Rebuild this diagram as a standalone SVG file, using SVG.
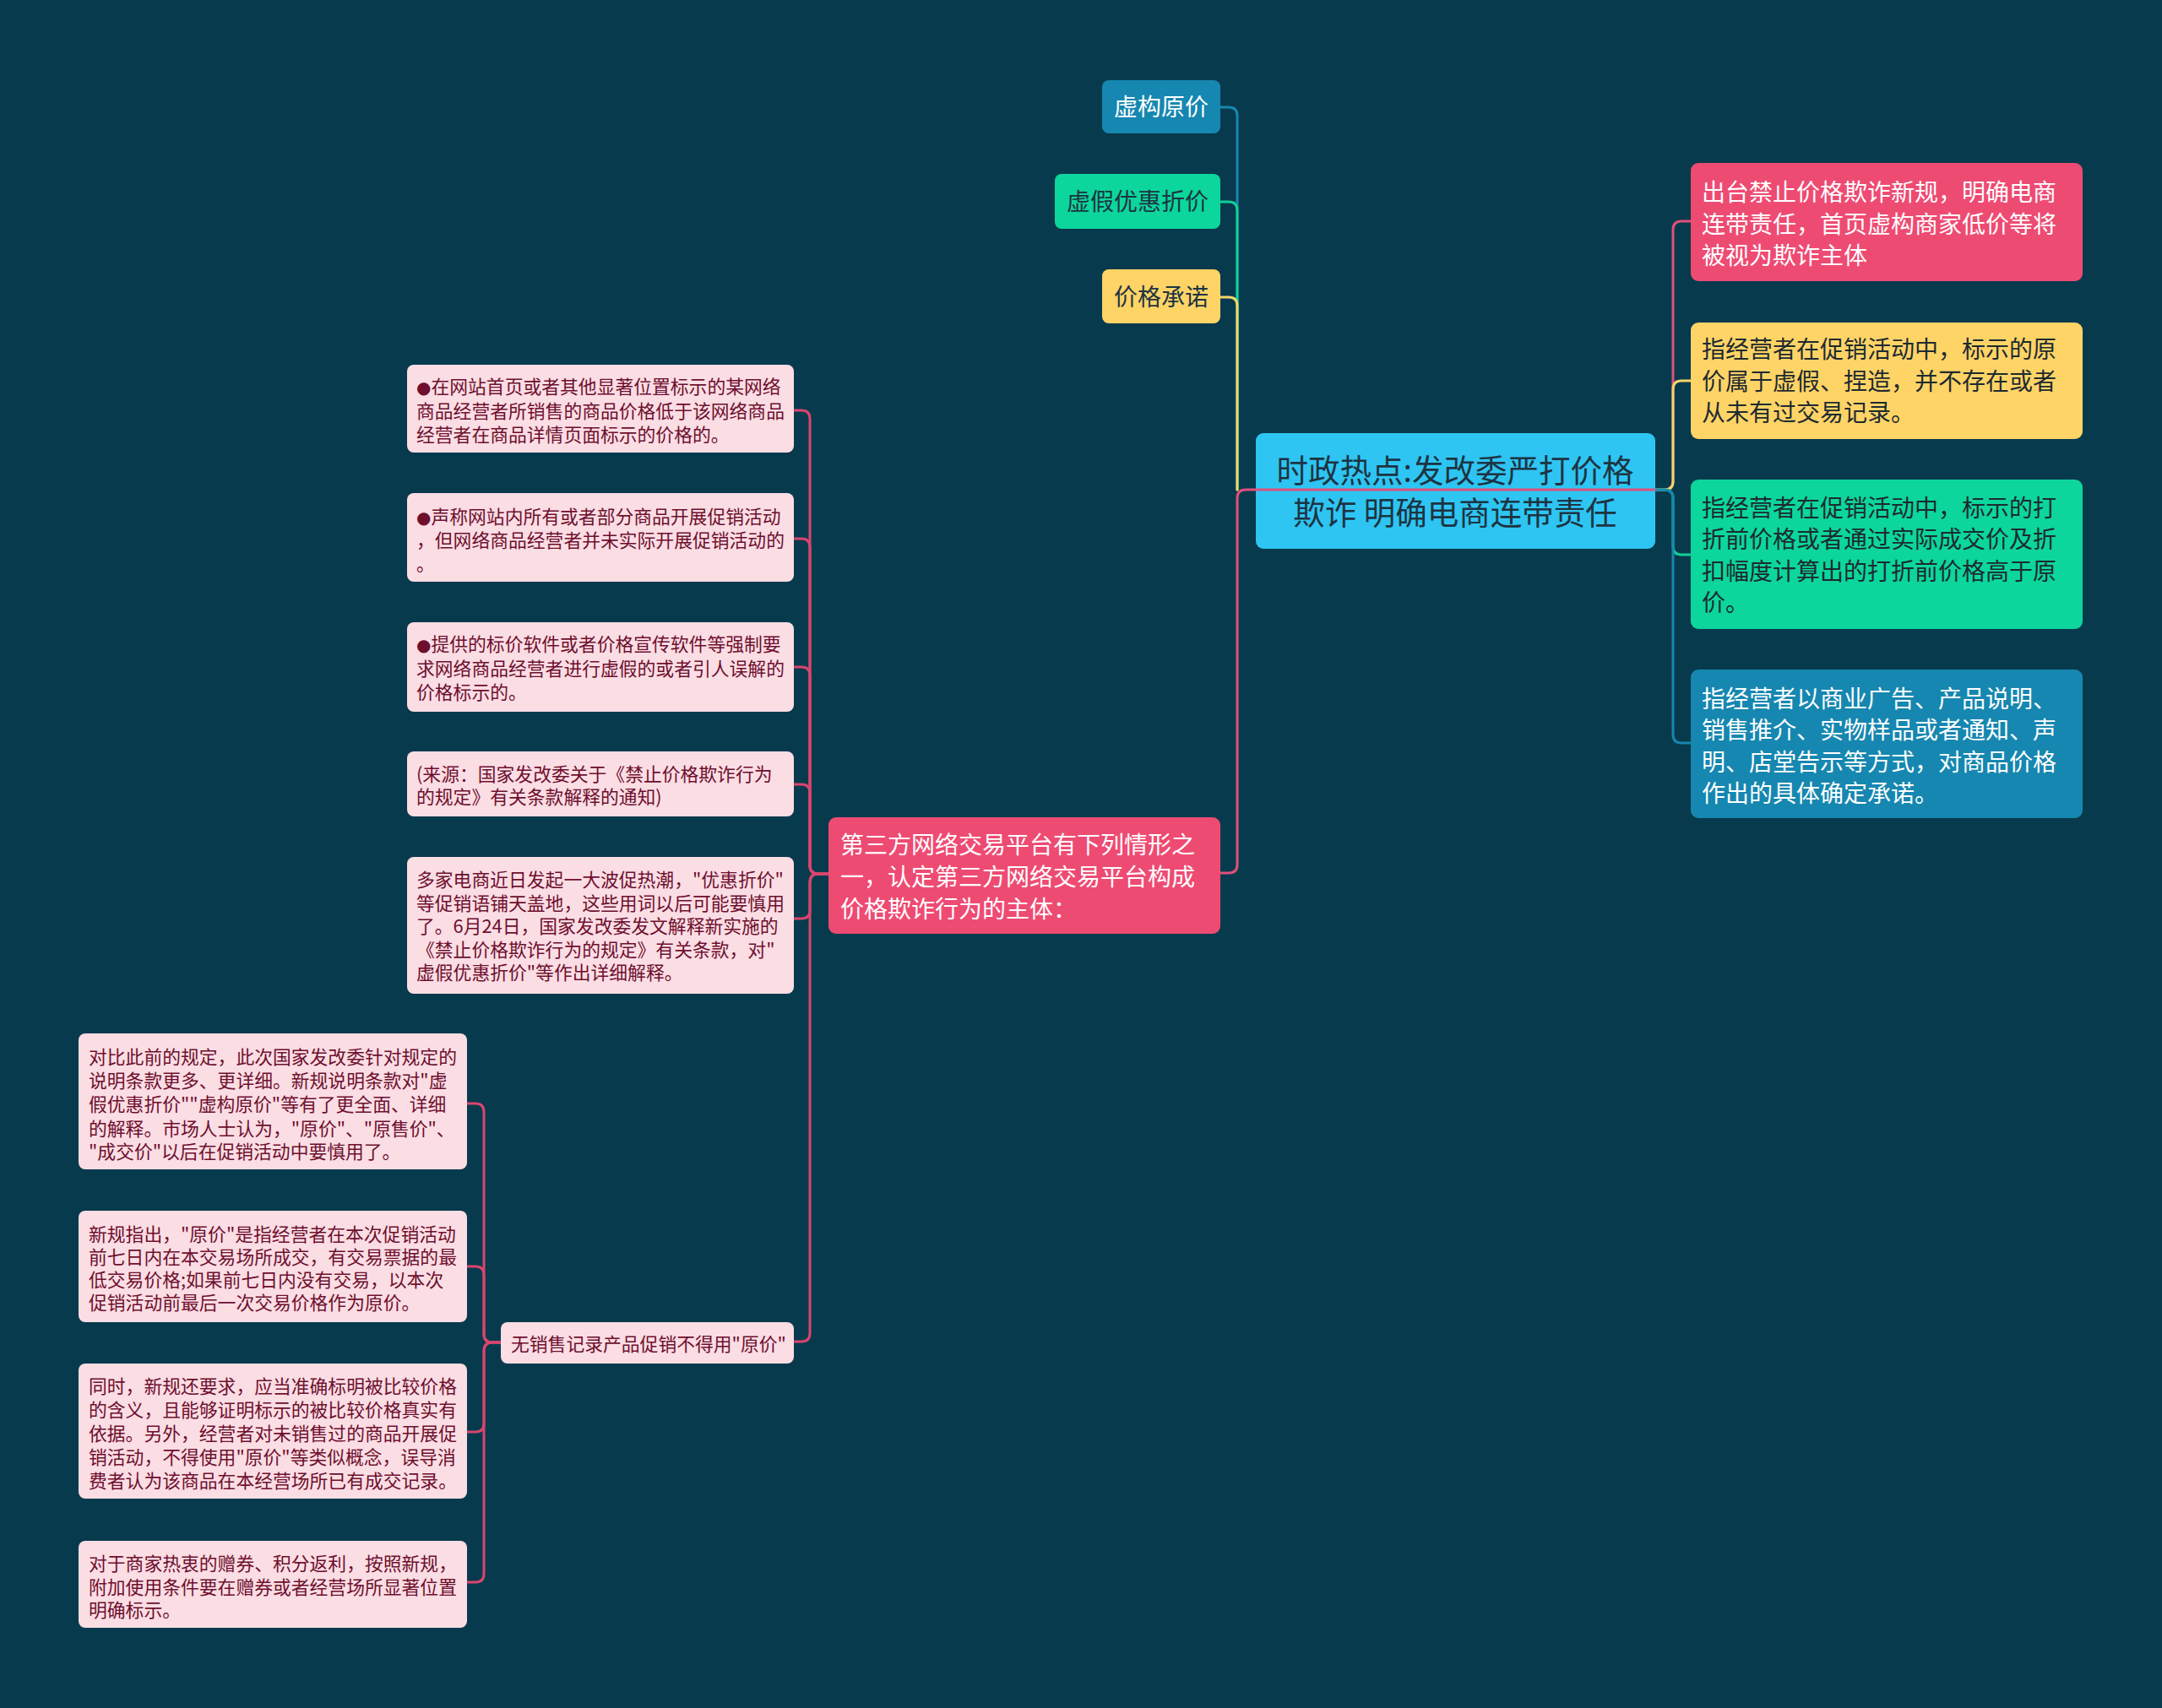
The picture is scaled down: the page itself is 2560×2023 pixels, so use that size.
<svg xmlns="http://www.w3.org/2000/svg" width="2560" height="2023" viewBox="0 0 2560 2023">
<style>
text{font-family:"Noto Sans CJK SC","Noto Sans",sans-serif}
.c{fill:none;stroke-width:3;stroke-linecap:round}
.lp{fill:#FBDDE4}
.lpt{fill:#6E0F2E;font-size:21.8px}
.big{font-size:28px}
.bul{font-family:"DejaVu Sans",sans-serif;font-size:20px}
</style>
<rect width="2560" height="2023" fill="#083A4D"/>
<g id="connectors">
<path class="c" stroke="#1687B0" d="M1465,580 V137 Q1465,127 1455,127 H1445"/>
<path class="c" stroke="#12CF98" d="M1465,580 V249 Q1465,239 1455,239 H1445"/>
<path class="c" stroke="#F3D46A" d="M1465,580 V362 Q1465,352 1455,352 H1445"/>
<path class="c" stroke="#E0507A" d="M1960,580 H1475 Q1465,580 1465,590 V1024 Q1465,1034 1455,1034 H1445"/>
<path class="c" stroke="#E0507A" d="M1960,580 H1971 Q1981,580 1981,570 V272 Q1981,262 1991,262 H2002"/>
<path class="c" stroke="#F3D46A" d="M1960,580 H1971 Q1981,580 1981,570 V461 Q1981,451 1991,451 H2002"/>
<path class="c" stroke="#12CF98" d="M1960,580 H1971 Q1981,580 1981,590 V647 Q1981,657 1991,657 H2002"/>
<path class="c" stroke="#1687B0" d="M1960,580 H1971 Q1981,580 1981,590 V870 Q1981,880 1991,880 H2002"/>
<g stroke="#D9456E">
<path class="c" d="M981,1035 H969 Q959,1035 959,1025 V496 Q959,486 949,486 H940"/>
<path class="c" d="M981,1035 H969 Q959,1035 959,1025 V648 Q959,638 949,638 H940"/>
<path class="c" d="M981,1035 H969 Q959,1035 959,1025 V800 Q959,790 949,790 H940"/>
<path class="c" d="M981,1035 H969 Q959,1035 959,1025 V939 Q959,929 949,929 H940"/>
<path class="c" d="M981,1035 H969 Q959,1035 959,1045 V1078 Q959,1088 949,1088 H940"/>
<path class="c" d="M981,1035 H969 Q959,1035 959,1045 V1579 Q959,1589 949,1589 H940"/>
<path class="c" d="M593,1590 H583 Q573,1590 573,1580 V1317 Q573,1307 563,1307 H553"/>
<path class="c" d="M593,1590 H583 Q573,1590 573,1580 V1510 Q573,1500 563,1500 H553"/>
<path class="c" d="M593,1590 H583 Q573,1590 573,1600 V1686 Q573,1696 563,1696 H553"/>
<path class="c" d="M593,1590 H583 Q573,1590 573,1600 V1864 Q573,1874 563,1874 H553"/>
</g>
</g>
<g id="root">
<rect x="1487" y="513" width="473" height="137" rx="9" fill="#2EC5F3"/>
<path d="M1487,580 H1960" stroke="#E0507A" stroke-width="3"/>
<text x="1723" font-size="37.5" fill="#1D3442" text-anchor="middle"><tspan x="1723" y="571">时政热点:发改委严打价格</tspan><tspan x="1723" y="621">欺诈 明确电商连带责任</tspan></text>
</g>
<g id="n-xugou">
<rect x="1305" y="95" width="140" height="63" rx="8" fill="#1687B0"/>
<text x="1375" y="137" class="big" fill="#FFFFFF" text-anchor="middle">虚构原价</text>
</g>
<g id="n-xujia">
<rect x="1249" y="206" width="196" height="65" rx="8" fill="#0CD69B"/>
<text x="1347" y="249" class="big" fill="#1D3442" text-anchor="middle">虚假优惠折价</text>
</g>
<g id="n-chengnuo">
<rect x="1305" y="319" width="140" height="64" rx="8" fill="#FFD466"/>
<text x="1375" y="362" class="big" fill="#1D3442" text-anchor="middle">价格承诺</text>
</g>
<g id="r1">
<rect x="2002" y="193" width="464" height="140" rx="9" fill="#EE4B73"/>
<text class="big" fill="#FFFFFF"><tspan x="2015" y="238">出台禁止价格欺诈新规，明确电商</tspan><tspan x="2015" y="276">连带责任，首页虚构商家低价等将</tspan><tspan x="2015" y="313">被视为欺诈主体</tspan></text>
</g>
<g id="r2">
<rect x="2002" y="382" width="464" height="138" rx="9" fill="#FFD466"/>
<text class="big" fill="#1D2A30"><tspan x="2015" y="424">指经营者在促销活动中，标示的原</tspan><tspan x="2015" y="462">价属于虚假、捏造，并不存在或者</tspan><tspan x="2015" y="499">从未有过交易记录。</tspan></text>
</g>
<g id="r3">
<rect x="2002" y="568" width="464" height="177" rx="9" fill="#0CD69B"/>
<text class="big" fill="#1D2A30"><tspan x="2015" y="612">指经营者在促销活动中，标示的打</tspan><tspan x="2015" y="649">折前价格或者通过实际成交价及折</tspan><tspan x="2015" y="687">扣幅度计算出的打折前价格高于原</tspan><tspan x="2015" y="724">价。</tspan></text>
</g>
<g id="r4">
<rect x="2002" y="793" width="464" height="176" rx="9" fill="#1687B0"/>
<text class="big" fill="#FFFFFF"><tspan x="2015" y="838">指经营者以商业广告、产品说明、</tspan><tspan x="2015" y="875">销售推介、实物样品或者通知、声</tspan><tspan x="2015" y="913">明、店堂告示等方式，对商品价格</tspan><tspan x="2015" y="950">作出的具体确定承诺。</tspan></text>
</g>
<g id="n-third">
<rect x="981" y="968" width="464" height="138" rx="9" fill="#EE4B73"/>
<text class="big" fill="#FFFFFF"><tspan x="995" y="1011">第三方网络交易平台有下列情形之</tspan><tspan x="995" y="1049">一，认定第三方网络交易平台构成</tspan><tspan x="995" y="1087">价格欺诈行为的主体：</tspan></text>
</g>
<g id="a1">
<rect class="lp" x="482" y="432" width="458" height="104" rx="8"/>
<text class="lpt"><tspan x="493" y="466" class="bul">●</tspan><tspan>在网站首页或者其他显著位置标示的某网络</tspan><tspan x="493" y="495">商品经营者所销售的商品价格低于该网络商品</tspan><tspan x="493" y="523">经营者在商品详情页面标示的价格的。</tspan></text>
</g>
<g id="a2">
<rect class="lp" x="482" y="584" width="458" height="105" rx="8"/>
<text class="lpt"><tspan x="493" y="620" class="bul">●</tspan><tspan>声称网站内所有或者部分商品开展促销活动</tspan><tspan x="493" y="648">，但网络商品经营者并未实际开展促销活动的</tspan><tspan x="493" y="676">。</tspan></text>
</g>
<g id="a3">
<rect class="lp" x="482" y="737" width="458" height="106" rx="8"/>
<text class="lpt"><tspan x="493" y="771" class="bul">●</tspan><tspan>提供的标价软件或者价格宣传软件等强制要</tspan><tspan x="493" y="800">求网络商品经营者进行虚假的或者引人误解的</tspan><tspan x="493" y="828">价格标示的。</tspan></text>
</g>
<g id="a4">
<rect class="lp" x="482" y="890" width="458" height="77" rx="8"/>
<text class="lpt"><tspan x="493" y="925">(来源：国家发改委关于《禁止价格欺诈行为</tspan><tspan x="493" y="952">的规定》有关条款解释的通知)</tspan></text>
</g>
<g id="a5">
<rect class="lp" x="482" y="1015" width="458" height="162" rx="8"/>
<text class="lpt"><tspan x="493" y="1050">多家电商近日发起一大波促热潮，"优惠折价"</tspan><tspan x="493" y="1078">等促销语铺天盖地，这些用词以后可能要慎用</tspan><tspan x="493" y="1105">了。6月24日，国家发改委发文解释新实施的</tspan><tspan x="493" y="1133">《禁止价格欺诈行为的规定》有关条款，对"</tspan><tspan x="493" y="1160">虚假优惠折价"等作出详细解释。</tspan></text>
</g>
<g id="a6">
<rect class="lp" x="593" y="1566" width="347" height="49" rx="8"/>
<text class="lpt" x="605" y="1600">无销售记录产品促销不得用"原价"</text>
</g>
<g id="b1">
<rect class="lp" x="93" y="1224" width="460" height="161" rx="8"/>
<text class="lpt"><tspan x="105" y="1260">对比此前的规定，此次国家发改委针对规定的</tspan><tspan x="105" y="1288">说明条款更多、更详细。新规说明条款对"虚</tspan><tspan x="105" y="1316">假优惠折价""虚构原价"等有了更全面、详细</tspan><tspan x="105" y="1345">的解释。市场人士认为，"原价"、"原售价"、</tspan><tspan x="105" y="1372">"成交价"以后在促销活动中要慎用了。</tspan></text>
</g>
<g id="b2">
<rect class="lp" x="93" y="1434" width="460" height="132" rx="8"/>
<text class="lpt"><tspan x="105" y="1470">新规指出，"原价"是指经营者在本次促销活动</tspan><tspan x="105" y="1497">前七日内在本交易场所成交，有交易票据的最</tspan><tspan x="105" y="1524">低交易价格;如果前七日内没有交易，以本次</tspan><tspan x="105" y="1551">促销活动前最后一次交易价格作为原价。</tspan></text>
</g>
<g id="b3">
<rect class="lp" x="93" y="1615" width="460" height="160" rx="8"/>
<text class="lpt"><tspan x="105" y="1650">同时，新规还要求，应当准确标明被比较价格</tspan><tspan x="105" y="1678">的含义，且能够证明标示的被比较价格真实有</tspan><tspan x="105" y="1706">依据。另外，经营者对未销售过的商品开展促</tspan><tspan x="105" y="1734">销活动，不得使用"原价"等类似概念，误导消</tspan><tspan x="105" y="1762">费者认为该商品在本经营场所已有成交记录。</tspan></text>
</g>
<g id="b4">
<rect class="lp" x="93" y="1825" width="460" height="103" rx="8"/>
<text class="lpt"><tspan x="105" y="1860">对于商家热衷的赠券、积分返利，按照新规，</tspan><tspan x="105" y="1888">附加使用条件要在赠券或者经营场所显著位置</tspan><tspan x="105" y="1915">明确标示。</tspan></text>
</g>
</svg>
